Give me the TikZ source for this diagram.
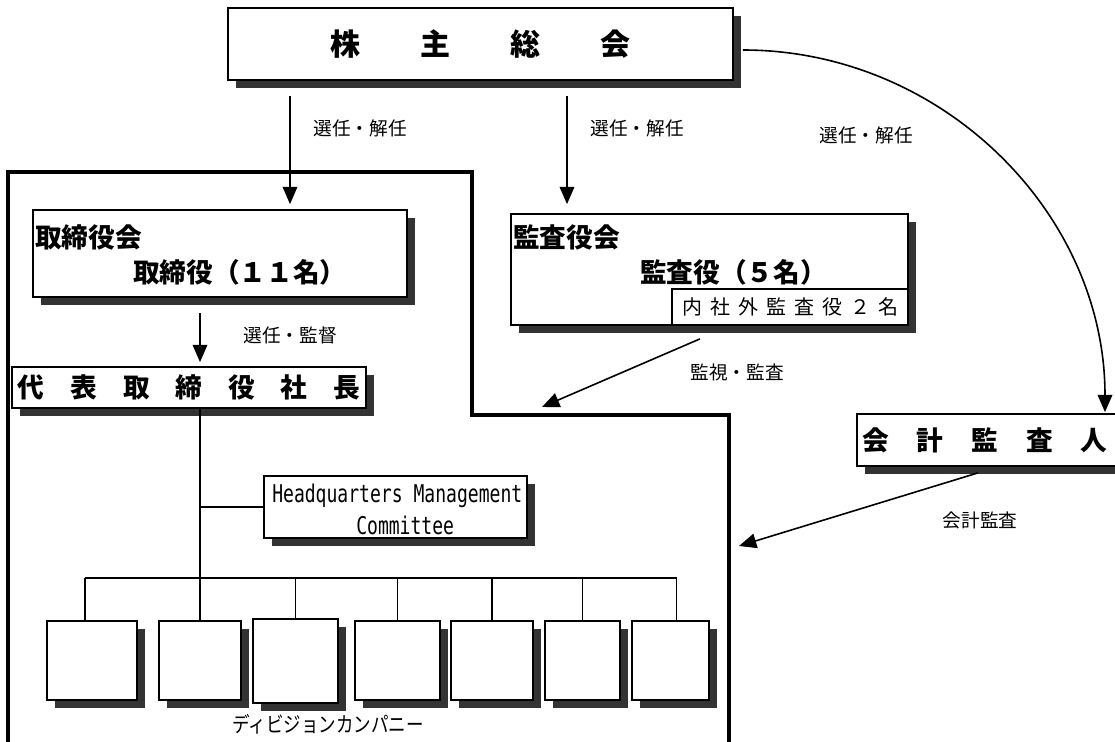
\documentclass[tikz,border=0pt]{standalone}
\usepackage{fontspec}
\setmainfont{Noto Sans CJK JP}
\newfontfamily\hqfont[FakeStretch=0.74]{DejaVu Sans Mono}
\newfontfamily\narrowjp[FakeStretch=0.82]{Noto Sans CJK JP}
\usetikzlibrary{arrows.meta,shadows,calc}
\definecolor{shade}{HTML}{333333}
\tikzset{
  wh/.style 2 args={minimum width=#1*0.75pt, minimum height=#2*0.75pt},
  box/.style={draw, line width=1.3pt, fill=white, inner sep=0pt,
    drop shadow={shadow xshift=6pt, shadow yshift=-6pt, fill=shade, opacity=1}},
  plainbox/.style={draw, line width=1.3pt, fill=white, inner sep=0pt},
  ttl/.style={inner sep=0pt, font=\bfseries\fontsize{20}{24}\selectfont},
  lbl/.style={inner sep=0pt, font=\fontsize{14}{16}\selectfont},
  arr/.style={line width=1.2pt, -{Triangle[length=13pt,width=11pt]}},
  conn/.style={line width=1.2pt},
  outline/.style={line width=2.3pt}
}
\begin{document}
\begin{tikzpicture}[x=0.75pt,y=-0.75pt]
\useasboundingbox (0,0) rectangle (1115,742);
\clip (0,0) rectangle (1115,742);
% outline of company area
\draw[outline] (8,760) -- (8,172) -- (472,172) -- (472,415) -- (729,415) -- (729,760);

% boxes
\node[box, wh={505}{72}] (top) at (480.5,44) {};
\node[ttl, font=\bfseries\fontsize{22.5}{26}\selectfont] (toptext) at (480.5,44) {株\hspace{45pt}主\hspace{45pt}総\hspace{45pt}会};

\node[box, wh={374}{87}] (tori) at (220,253.5) {};
\node[ttl, anchor=west] (toritext1) at (35,237) {取締役会};
\node[ttl, anchor=west] (toritext2) at (133,272) {取締役（１１名）};

\node[box, wh={354}{41}] (daihyo) at (189,387.5) {};
\node[ttl] (daihyotext) at (189,387.5) {代\hspace{19.5pt}表\hspace{19.5pt}取\hspace{19.5pt}締\hspace{19.5pt}役\hspace{19.5pt}社\hspace{19.5pt}長};

\node[box, wh={397}{111}] (kansa) at (709.5,269.5) {};
\node[ttl, anchor=west] (kansatext1) at (513,237) {監査役会};
\node[ttl, anchor=west] (kansatext2) at (640,272) {監査役（５名）};
\node[plainbox, wh={236}{36}] (inner) at (790,307) {};
\node[inner sep=0pt, font=\fontsize{15}{18}\selectfont] (innertext) at (790,307) {内\hspace{6pt}社\hspace{6pt}外\hspace{6pt}監\hspace{6pt}査\hspace{6pt}役\hspace{6pt}２\hspace{6pt}名};

\node[box, wh={268}{52}] (kaikei) at (991,440) {};
\node[ttl, anchor=west] (kaikeitext) at (862,440) {会\hspace{21pt}計\hspace{21pt}監\hspace{21pt}査\hspace{21pt}人};

\node[box, wh={263}{62}] (hq) at (395.5,507) {};
\node[anchor=west, inner sep=0pt, align=left, font=\hqfont\fontsize{18.3}{24}\selectfont] (hqtext) at (272,509) {Headquarters Management\\\hspace*{63pt}Committee};

% division companies
\node[box, wh={90}{79}] (c1) at (92,660.5) {};
\node[box, wh={82}{79}] (c2) at (200,660.5) {};
\node[box, wh={85}{84}] (c3) at (295.5,661) {};
\node[box, wh={85}{79}] (c4) at (397.5,660.5) {};
\node[box, wh={82}{79}] (c5) at (492,660.5) {};
\node[box, wh={75}{79}] (c6) at (582.5,660.5) {};
\node[box, wh={77}{79}] (c7) at (670.5,660.5) {};
\node[inner sep=0pt, font=\narrowjp\fontsize{16}{18}\selectfont] (divtext) at (328,724) {ディビジョンカンパニー};

% tree lines
\coordinate (bus) at (0,578);
\draw[conn] (daihyo.south -| c2.north) -- (c2.north);
\draw[conn] (hq.west) -- (hq.west -| c2.north);
\draw[conn] ([shift={(-7,0)}]c1.north |- bus) -- ([shift={(6,0)}]c7.north |- bus);
\draw[conn] ([shift={(-7,0)}]c1.north) -- ([shift={(-7,0)}]c1.north |- bus);
\draw[conn] (c3.north) -- (c3.north |- bus);
\draw[conn] (c4.north) -- (c4.north |- bus);
\draw[conn] (c5.north) -- (c5.north |- bus);
\draw[conn] (c6.north) -- (c6.north |- bus);
\draw[conn] ([shift={(6,0)}]c7.north) -- ([shift={(6,0)}]c7.north |- bus);

% arrows
\draw[arr] ([shift={(-190.5,15)}]top.south) -- ([shift={(70,-5)}]tori.north);
\node[lbl] (l1) at (360,128) {選任・解任};
\draw[arr] ([shift={(86.5,15)}]top.south) -- ([shift={(-142.5,-9)}]kansa.north);
\node[lbl] (l2) at (637,128) {選任・解任};
\draw[arr] ([shift={(9,6)}]top.east) .. controls (942,50) and (1105,213) .. ([shift={(114,-1)}]kaikei.north);
\node[lbl] (l3) at (866,135) {選任・解任};
\draw[arr] ([shift={(-20,15)}]tori.south) -- ([shift={(11,-4)}]daihyo.north);
\node[lbl] (l4) at (290,335) {選任・監督};
\coordinate (kansaend) at (542,407);
\draw[arr] ([shift={(-9.5,13)}]kansa.south) -- (kansaend);
\node[lbl] (l5) at (737,372) {監視・監査};
\coordinate (kaikeiend) at (739,546);
\draw[arr] ([shift={(-13,6)}]kaikei.south) -- (kaikeiend);
\node[lbl] (l6) at (980,520) {会計監査};
\end{tikzpicture}
\end{document}
